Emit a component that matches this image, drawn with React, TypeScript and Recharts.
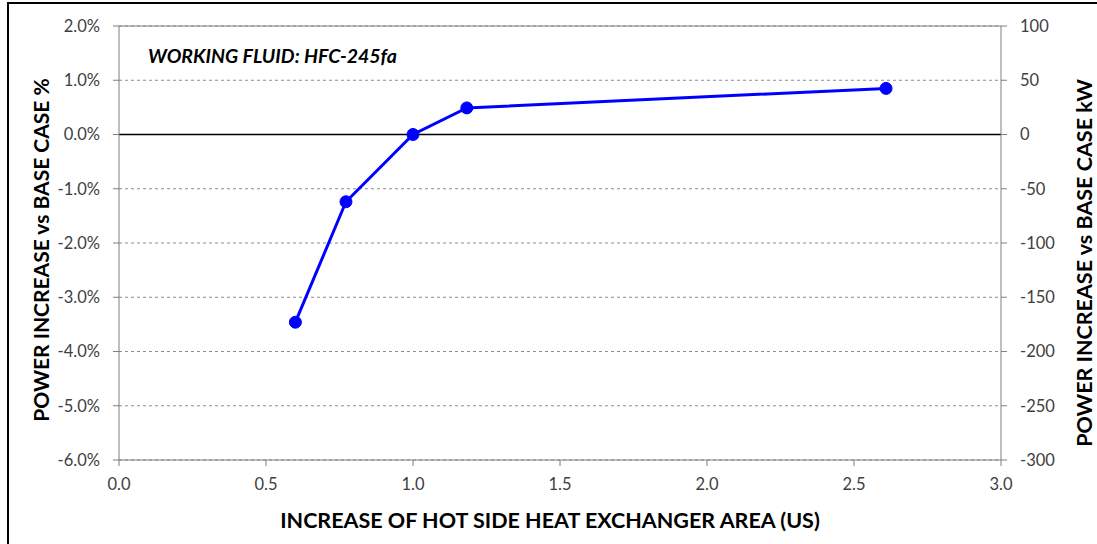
import React from "react";
import {
  LineChart,
  Line,
  XAxis,
  YAxis,
  CartesianGrid,
  ReferenceLine,
} from "recharts";

const areaRatio = [0.6, 0.772, 1.0, 1.183, 2.609];
const powerPct = [-3.46, -1.24, 0.0, 0.49, 0.85];

const xTicks = [0, 0.5, 1.0, 1.5, 2.0, 2.5, 3.0];
const pctTicks = [-6, -5, -4, -3, -2, -1, 0, 1, 2];
const kwTicks = [-300, -250, -200, -150, -100, -50, 0, 50, 100];

const data = areaRatio.map((x, i) => ({ x, pct: powerPct[i] }));

const FONT = "Lato, 'Open Sans', sans-serif";
const tickStyle = { fill: "#404040", fontSize: 16.5, fontFamily: FONT };
const axisGray = "#7f7f7f";

export default function App() {
  return (
    <div
      style={{
        position: "absolute",
        left: 0,
        top: 0,
        width: 1097,
        height: 544,
        overflow: "hidden",
        background: "#fff",
      }}
    >
      <div
        style={{
          position: "absolute",
          left: 7,
          top: 2,
          width: 1200,
          height: 700,
          borderLeft: "2px solid #000",
          borderTop: "2px solid #000",
        }}
      />
      <LineChart
        width={1097}
        height={544}
        data={data}
        margin={{ top: 26, right: 40, bottom: 44, left: 55 }}
        style={{ position: "absolute", left: 0, top: 0 }}
      >
        <CartesianGrid
          horizontal
          vertical={false}
          stroke="#8c8c8c"
          strokeDasharray="3 3"
        />
        <XAxis
          dataKey="x"
          type="number"
          domain={[0, 3]}
          ticks={xTicks}
          tickFormatter={(v: number) => v.toFixed(1)}
          tick={tickStyle}
          stroke={axisGray}
          tickSize={6}
          tickMargin={12}
          height={40}
          label={{
            content: () => (
              <text
                x={550}
                y={528}
                textAnchor="middle"
                fontFamily={FONT}
                fontWeight={700}
                fontSize={21.5}
                fill="#000"
              >
                INCREASE OF HOT SIDE HEAT EXCHANGER AREA (US)
              </text>
            ),
          }}
        />
        <YAxis
          domain={[-6, 2]}
          ticks={pctTicks}
          tickFormatter={(v: number) => `${v.toFixed(1)}%`}
          tick={tickStyle}
          stroke={axisGray}
          tickSize={6}
          tickMargin={13}
          width={64}
          interval={0}
          label={{
            content: () => (
              <text
                x={49}
                y={250}
                transform="rotate(-90 49 250)"
                textAnchor="middle"
                fontFamily={FONT}
                fontWeight={700}
                fontSize={21}
                fill="#000"
              >
                POWER INCREASE vs BASE CASE %
              </text>
            ),
          }}
        />
        <YAxis
          yAxisId="right"
          orientation="right"
          domain={[-300, 100]}
          allowDataOverflow
          ticks={kwTicks}
          tick={tickStyle}
          stroke={axisGray}
          tickSize={6}
          tickMargin={13}
          width={56}
          interval={0}
          label={{
            content: () => (
              <text
                x={1092}
                y={263}
                transform="rotate(-90 1092 263)"
                textAnchor="middle"
                fontFamily={FONT}
                fontWeight={700}
                fontSize={21.5}
                fill="#000"
              >
                POWER INCREASE vs BASE CASE kW
              </text>
            ),
          }}
        />
        <ReferenceLine y={2} stroke={axisGray} />
        <ReferenceLine y={0} stroke="#000" strokeWidth={1.5} />
        <Line
          yAxisId="right"
          dataKey="kw"
          stroke="none"
          dot={false}
          activeDot={false}
          legendType="none"
          isAnimationActive={false}
        />
        <Line
          dataKey="pct"
          stroke="#0000ff"
          strokeWidth={3}
          dot={{ r: 6, fill: "#0000ff", stroke: "#0000ff", strokeWidth: 1 }}
          isAnimationActive={false}
        />
      </LineChart>
      <div
        style={{
          position: "absolute",
          left: 148,
          top: 44,
          fontFamily: FONT,
          fontWeight: 700,
          fontStyle: "italic",
          fontSize: 19.5,
          color: "#000",
        }}
      >
        WORKING FLUID: HFC-245fa
      </div>
    </div>
  );
}
